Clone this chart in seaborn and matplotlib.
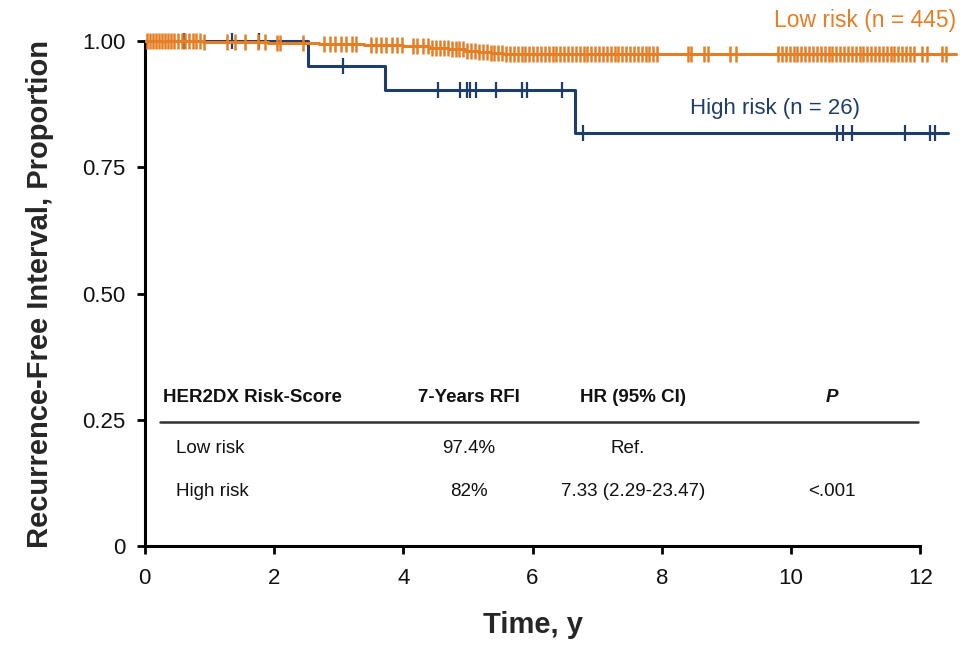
import numpy as np
import pandas as pd
import seaborn as sns
import matplotlib.pyplot as plt

# Kaplan-Meier curves (event times / survival after each event)
low_event_t = [0.9, 1.9, 2.7, 3.4, 4.0, 4.4, 4.7, 4.95, 5.15, 5.35, 5.55]
low_event_s = [0.998, 0.996, 0.994, 0.992, 0.990, 0.987, 0.984, 0.981, 0.978, 0.976, 0.974]
low_end = 12.55

high_event_t = [2.52, 3.72, 6.66]
high_event_s = [0.951, 0.904, 0.818]
high_end = 12.43

# censoring times
low_censor = [0.03, 0.08, 0.12, 0.17, 0.22, 0.27, 0.31, 0.36, 0.41, 0.46, 0.52, 0.58, 0.63,
              0.69, 0.74, 0.80, 0.86, 0.92,
              1.28, 1.39, 1.55, 1.75, 1.86, 2.05, 2.09, 2.45,
              2.78, 2.86, 2.95, 3.03, 3.12, 3.20, 3.27,
              3.50, 3.58, 3.66, 3.74, 3.82, 3.90, 3.98,
              4.15, 4.22, 4.30, 4.38, 4.45, 4.51, 4.57, 4.63, 4.69, 4.75, 4.81, 4.87, 4.93,
              4.99, 5.05, 5.11, 5.17, 5.23, 5.29, 5.35, 5.41, 5.47, 5.53, 5.59, 5.65, 5.71,
              5.77, 5.83, 5.89, 5.95, 6.01, 6.07, 6.13, 6.19, 6.25, 6.31, 6.37, 6.43, 6.49,
              6.55, 6.61, 6.67, 6.73, 6.79, 6.85, 6.91, 6.97, 7.03, 7.09, 7.15, 7.21, 7.27,
              7.33, 7.39, 7.45, 7.51, 7.57, 7.63, 7.69, 7.75, 7.81, 7.87, 7.93,
              8.40, 8.46, 8.66, 8.71, 9.06, 9.15,
              9.80, 9.86, 9.92, 9.98, 10.04, 10.10, 10.16, 10.22, 10.28, 10.34, 10.40, 10.46,
              10.52, 10.58, 10.64, 10.70, 10.76, 10.82, 10.88, 10.94, 11.00, 11.06, 11.12,
              11.18, 11.24, 11.30, 11.36, 11.42, 11.48, 11.54, 11.60, 11.66, 11.72, 11.78,
              11.84, 11.90,
              12.03, 12.10, 12.34, 12.40]
high_censor = [0.60, 1.35, 1.77, 3.07, 4.54, 4.88, 4.98, 5.03, 5.13, 5.44, 5.84, 5.91, 6.45,
               6.78, 10.71, 10.81, 10.94, 11.76, 12.15, 12.23]

# summary table
tbl_header = ['HER2DX Risk-Score', '7-Years RFI', 'HR (95% CI)', 'P']
tbl_rows = [['Low risk', '97.4%', 'Ref.', ''],
            ['High risk', '82%', '7.33 (2.29-23.47)', '<.001']]

ORANGE = '#E57E25'
BLUE = '#1F3D6B'

sns.set_style('ticks')
plt.rcParams['font.family'] = ['Liberation Sans', 'DejaVu Sans']
plt.rcParams['text.color'] = '#111111'

fig = plt.figure(figsize=(9.65, 6.45), dpi=100)
ax = fig.add_axes([0.150, 0.1535, 0.8425, 0.806])


def km_frame(ev_t, ev_s, end):
    t = [0.0] + list(ev_t) + [end]
    s = [1.0] + list(ev_s) + [ev_s[-1]]
    return pd.DataFrame({'t': t, 's': s})


def surv_at(times, ev_t, ev_s):
    idx = np.searchsorted(ev_t, times, side='right')
    s = np.concatenate([[1.0], ev_s])
    return s[idx]


low_df = km_frame(low_event_t, low_event_s, low_end)
high_df = km_frame(high_event_t, high_event_s, high_end)

sns.lineplot(data=low_df, x='t', y='s', ax=ax, color=ORANGE, lw=2.2,
             drawstyle='steps-post', sort=False, zorder=3)
sns.lineplot(data=high_df, x='t', y='s', ax=ax, color=BLUE, lw=2.2,
             drawstyle='steps-post', sort=False, zorder=2)

ax.plot(low_censor, surv_at(low_censor, low_event_t, low_event_s), ls='none',
        marker='|', ms=11, mew=1.8, color=ORANGE, zorder=3)
ax.plot(high_censor, surv_at(high_censor, high_event_t, high_event_s), ls='none',
        marker='|', ms=11, mew=1.6, color=BLUE, zorder=2)

# curve labels
ax.text(12.55, 1.042, 'Low risk (n = 445)', color=ORANGE, fontsize=16.5,
        ha='right', va='center', clip_on=False)
ax.text(9.75, 0.867, 'High risk (n = 26)', color=BLUE, fontsize=16,
        ha='center', va='center')

# table inside the plot
fs = 13.5
ax.text(0.28, 0.295, tbl_header[0], fontsize=fs, fontweight='bold', ha='left', va='center')
ax.text(5.02, 0.295, tbl_header[1], fontsize=fs, fontweight='bold', ha='center', va='center')
ax.text(7.55, 0.295, tbl_header[2], fontsize=fs, fontweight='bold', ha='center', va='center')
ax.text(10.63, 0.295, tbl_header[3], fontsize=fs, fontweight='bold', fontstyle='italic',
        ha='center', va='center')
ax.plot([0.23, 11.97], [0.2455, 0.2455], color='#333333', lw=1.8)
for row, y in zip(tbl_rows, [0.194, 0.107]):
    ax.text(0.48, y, row[0], fontsize=fs, ha='left', va='center')
    for xc, val in zip([5.02, 7.48 if row[0] == 'Low risk' else 7.55, 10.63], row[1:]):
        ax.text(xc, y, val, fontsize=fs, ha='center', va='center')

ax.set_xlim(0, 12.58)
ax.set_ylim(0, 1.03)
ax.set_xticks(range(0, 13, 2))
ax.set_yticks([0, 0.25, 0.5, 0.75, 1.0])
ax.set_yticklabels(['0', '0.25', '0.50', '0.75', '1.00'])
ax.spines['bottom'].set_bounds(0, 12)
ax.spines['left'].set_bounds(0, 1.0)
for side in ['top', 'right']:
    ax.spines[side].set_visible(False)
for side in ['left', 'bottom']:
    ax.spines[side].set_linewidth(2.2)
    ax.spines[side].set_color('black')
ax.tick_params(axis='both', labelsize=16, width=2, length=6, color='black',
               labelcolor='#111111')
ax.tick_params(axis='x', pad=10)
ax.tick_params(axis='y', pad=8)

ax.set_xlabel('Time, y', fontsize=21, fontweight='bold')
ax.set_ylabel('Recurrence-Free Interval, Proportion', fontsize=21, fontweight='bold')
ax.xaxis.set_label_coords(6 / 12.58, -0.125)
ax.yaxis.set_label_coords(-0.112, 1.0 / 1.03 / 2)

fig.savefig('out.png', dpi=100)
